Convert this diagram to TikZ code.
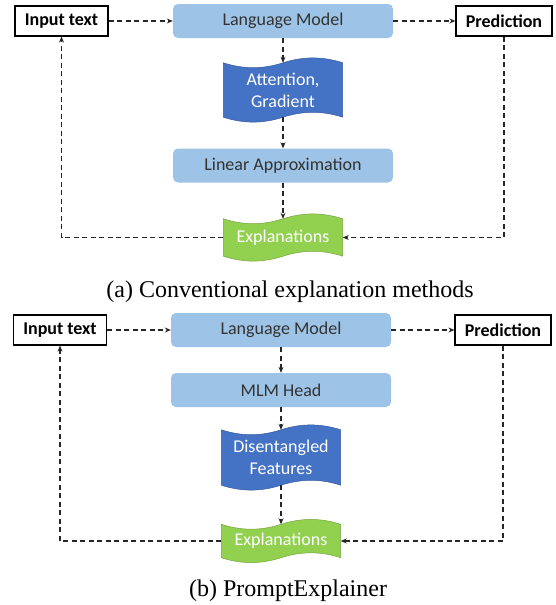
\documentclass[tikz,border=0pt]{standalone}
\usepackage{fontspec}
\setmainfont{Liberation Serif}
\newfontfamily\calibri{Carlito}
\usetikzlibrary{arrows.meta,positioning}
\pgfdeclarelayer{background}
\pgfsetlayers{background,main}

\definecolor{lmblue}{HTML}{9DC3E6}
\definecolor{featblue}{HTML}{4472C4}
\definecolor{expgreen}{HTML}{92D050}
\definecolor{txtgray}{HTML}{333333}

% wavy banner behind a named node: node name, fill colour
\newcommand{\wavefill}[2]{%
  \begin{pgfonlayer}{background}
    \filldraw[fill=#2, draw=#2!80!black, line width=0.5pt]
      (#1.north west) .. controls +(20,6.5) and +(-20,6.5) .. (#1.north)
      .. controls +(20,-6.5) and +(-20,-6.5) .. (#1.north east)
      -- (#1.south east) .. controls +(-20,-6.5) and +(20,-6.5) .. (#1.south)
      .. controls +(-20,6.5) and +(20,6.5) .. (#1.south west) -- cycle;
  \end{pgfonlayer}}

\begin{document}
\begin{tikzpicture}[x=1pt, y=-1pt,
    every node/.style={font=\calibri\fontsize{18}{22}\selectfont},
    io/.style={draw, line width=1.2pt, fill=white, minimum width=93pt, minimum height=30pt,
      inner sep=0pt, font=\calibri\bfseries\fontsize{18}{22}\selectfont},
    model/.style={fill=lmblue, rounded corners=5pt, minimum width=220pt, minimum height=34pt,
      inner sep=0pt, text=txtgray},
    wavebox/.style={minimum width=119pt, inner sep=0pt, text=white, align=center},
    conn/.style={draw=black!85, line width=1.1pt, dash pattern=on 5pt off 3.5pt,
      -{Stealth[length=6pt,width=5pt]}},
    caption/.style={font=\rmfamily\fontsize{24}{28}\selectfont}]
  \useasboundingbox (0,0) rectangle (555,605);

  % (a) conventional methods
  \node[io] (inA) at (61.5,21) {Input text};
  \node[model] (lmA) at (283,21) {Language Model};
  \node[io, minimum width=96pt] (predA) at (504,21) {Prediction};
  \node[wavebox, minimum height=54pt] (attA) at (283,90) {Attention,\\Gradient};
  \node[model] (linA) at (283,165.5) {Linear Approximation};
  \node[wavebox, minimum height=37pt] (expA) at (283,237.5) {Explanations};
  \wavefill{attA}{featblue}
  \wavefill{expA}{expgreen}

  \draw[conn] (inA.east) -- (lmA.west);
  \draw[conn] (lmA.east) -- (predA.west);
  \draw[conn] (lmA.south) -- (attA.north);
  \draw[conn] (attA.south) -- (linA.north);
  \draw[conn] (linA.south) -- (expA.north);
  \draw[conn] (predA.south) |- (expA.east);
  \draw[conn] (expA.west) -| (inA.south);

  \node[caption] (capA) at (290,292) {(a) Conventional explanation methods};

  % (b) PromptExplainer
  \node[io] (inB) at (60,330) {Input text};
  \node[model] (lmB) at (281,330) {Language Model};
  \node[io, minimum width=96pt] (predB) at (503,330) {Prediction};
  \node[model] (mlmB) at (281,390) {MLM Head};
  \node[wavebox, minimum height=55pt] (featB) at (281,457.5) {Disentangled\\Features};
  \node[wavebox, minimum height=33pt] (expB) at (281,541) {Explanations};
  \wavefill{featB}{featblue}
  \wavefill{expB}{expgreen}

  \draw[conn] (inB.east) -- (lmB.west);
  \draw[conn] (lmB.east) -- (predB.west);
  \draw[conn] (lmB.south) -- (mlmB.north);
  \draw[conn] (mlmB.south) -- (featB.north);
  \draw[conn] (featB.south) -- (expB.north);
  \draw[conn] (predB.south) |- (expB.east);
  \draw[conn] (expB.west) -| (inB.south);

  \node[caption] (capB) at (288,590.5) {(b) PromptExplainer};
\end{tikzpicture}
\end{document}
